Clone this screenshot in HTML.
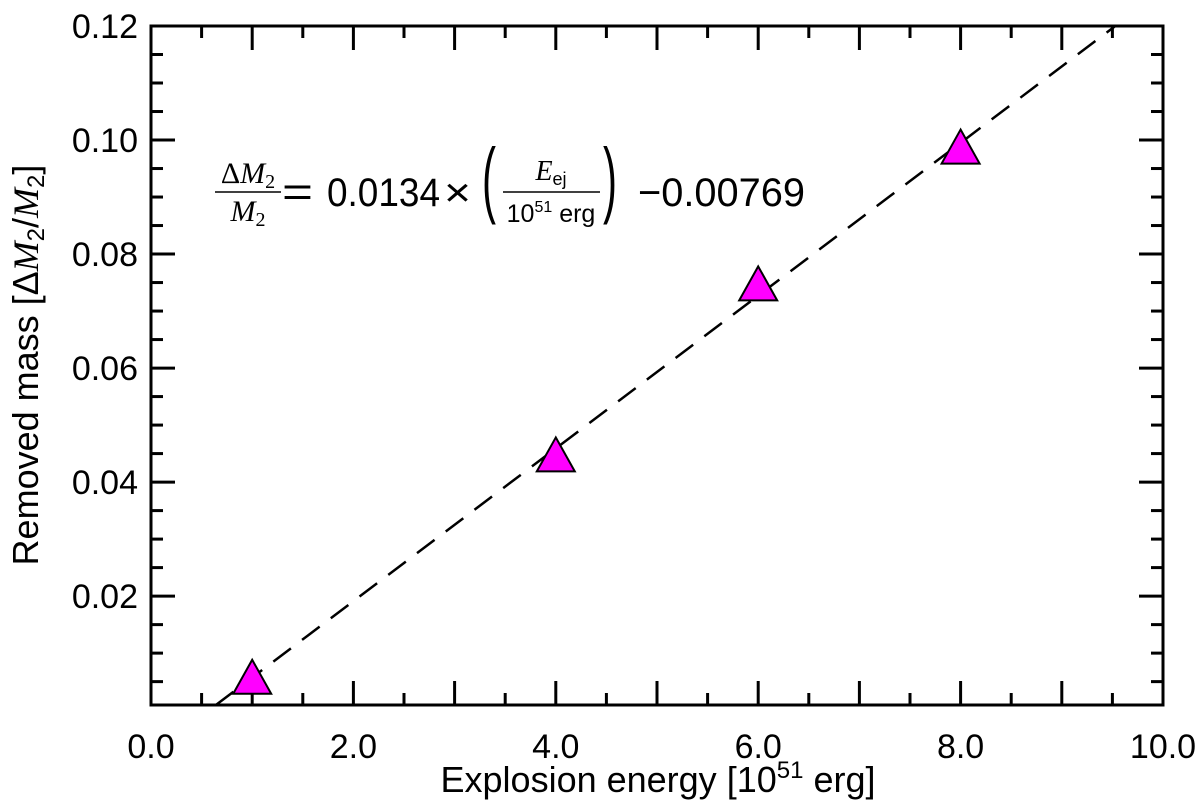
<!DOCTYPE html>
<html><head><meta charset="utf-8"><style>
body{margin:0;background:#fff}
svg{display:block;font-family:"Liberation Sans",sans-serif}
</style></head><body>
<svg id="chart" width="1200" height="812" viewBox="0 0 1200 812" xmlns="http://www.w3.org/2000/svg">
<g id="ticks"></g>
<g id="marks"></g>
<rect x="151" y="26" width="1012" height="679" fill="none" stroke="#000" stroke-width="3"/>
<g font-size="40">
  <text x="248" y="183" font-family="Liberation Serif,serif" font-style="italic" font-size="30" text-anchor="middle"><tspan font-style="normal">Δ</tspan>M<tspan font-size="20" dy="5" font-style="normal">2</tspan></text>
  <line x1="215" y1="192" x2="281" y2="192" stroke="#000" stroke-width="1.5"/>
  <text x="248" y="221" font-family="Liberation Serif,serif" font-style="italic" font-size="30" text-anchor="middle">M<tspan font-size="20" dy="5" font-style="normal">2</tspan></text>
  <text x="282" y="206" font-size="42" textLength="31" lengthAdjust="spacingAndGlyphs">=</text>
  <text x="327" y="206" textLength="113" lengthAdjust="spacingAndGlyphs">0.0134</text>
  <text x="444" y="206" textLength="27" lengthAdjust="spacingAndGlyphs">×</text>
  <text transform="translate(482,207) scale(1,2)" font-size="42" font-weight="100">(</text>
  <text x="551" y="180" font-family="Liberation Serif,serif" font-style="italic" font-size="28" text-anchor="middle">E<tspan font-family="Liberation Sans,sans-serif" font-style="normal" font-size="18" dy="5">ej</tspan></text>
  <line x1="503" y1="192" x2="600" y2="192" stroke="#000" stroke-width="1.5"/>
  <text x="551" y="222" font-size="25" text-anchor="middle">10<tspan font-size="16" dy="-10">51</tspan><tspan dy="10"> erg</tspan></text>
  <text transform="translate(603,207) scale(1,2)" font-size="42" font-weight="100">)</text>
  <text x="638" y="206" textLength="167" lengthAdjust="spacingAndGlyphs">−0.00769</text>
</g>
<text x="658" y="792" font-size="36" text-anchor="middle">Explosion energy  [10<tspan font-size="24" dy="-14">51</tspan><tspan dy="14"> erg]</tspan></text>
<text transform="translate(38,365) rotate(-90)" font-size="36" text-anchor="middle">Removed mass  [Δ<tspan font-family="Liberation Serif,serif" font-style="italic">M</tspan><tspan font-size="24" dy="6">2</tspan><tspan dy="-6">/</tspan><tspan font-family="Liberation Serif,serif" font-style="italic">M</tspan><tspan font-size="24" dy="6">2</tspan><tspan dy="-6">]</tspan></text>
<script>
const energies=[1,4,6,8];
const removedMass=[0.0055,0.0445,0.0745,0.0985];
const xTickLabels=["0.0","2.0","4.0","6.0","8.0","10.0"];
const yTickLabels=["0.02","0.04","0.06","0.08","0.10","0.12"];
const fitSlope=0.0134;
const fitIntercept=-0.00769;
const NS="http://www.w3.org/2000/svg";
const L=151,R=1163,T=26,B=705,XMIN=0,XMAX=10,YMIN=0.0009,YMAX=0.12;
const sx=v=>L+(v-XMIN)/(XMAX-XMIN)*(R-L);
const sy=v=>B-(v-YMIN)/(YMAX-YMIN)*(B-T);
function mk(tag,attrs,parent){const e=document.createElementNS(NS,tag);for(const k in attrs)e.setAttribute(k,attrs[k]);parent.appendChild(e);return e;}
const tg=document.getElementById('ticks'),mg=document.getElementById('marks');
for(let i=0;i<=20;i++){const v=i*0.5,x=sx(v),len=i%2==0?24:12;
 const a=mk('line',{x1:x,y1:B,x2:x,y2:B-len,stroke:'#000','stroke-width':3},tg);
 
 
 const b=mk('line',{x1:x,y1:T,x2:x,y2:T+len,stroke:'#000','stroke-width':3},tg);
 
 }
xTickLabels.forEach((t,i)=>{const e=mk('text',{x:sx(parseFloat(t)),y:758,'font-size':34,'text-anchor':'middle'},tg);e.textContent=t;
 
 });
for(let i=1;i<=24;i++){const v=i*0.005,y=sy(v),len=i%4==0?24:12;
 const a=mk('line',{x1:L,y1:y,x2:L+len,y2:y,stroke:'#000','stroke-width':3},tg);
 
 
 const b=mk('line',{x1:R,y1:y,x2:R-len,y2:y,stroke:'#000','stroke-width':3},tg);
 
 }
yTickLabels.forEach(t=>{const e=mk('text',{x:138,y:sy(parseFloat(t))+12,'font-size':34,'text-anchor':'end'},tg);e.textContent=t;
 
 });
const x0=(YMIN-fitIntercept)/fitSlope,x1=(YMAX-fitIntercept)/fitSlope;
const fl=mk('line',{x1:sx(x0),y1:sy(YMIN),x2:sx(x1),y2:sy(YMAX),stroke:'#000','stroke-width':2.5,'stroke-dasharray':'22,14'},mg);


energies.forEach((e,i)=>{const x=sx(e),y=sy(removedMass[i]);
 const p=mk('polygon',{points:`${x},${y-19} ${x-19},${y+15} ${x+19},${y+15}`,fill:'#ff00ff',stroke:'#000','stroke-width':2},mg);
 
 });
</script>
</svg>
</body></html>
